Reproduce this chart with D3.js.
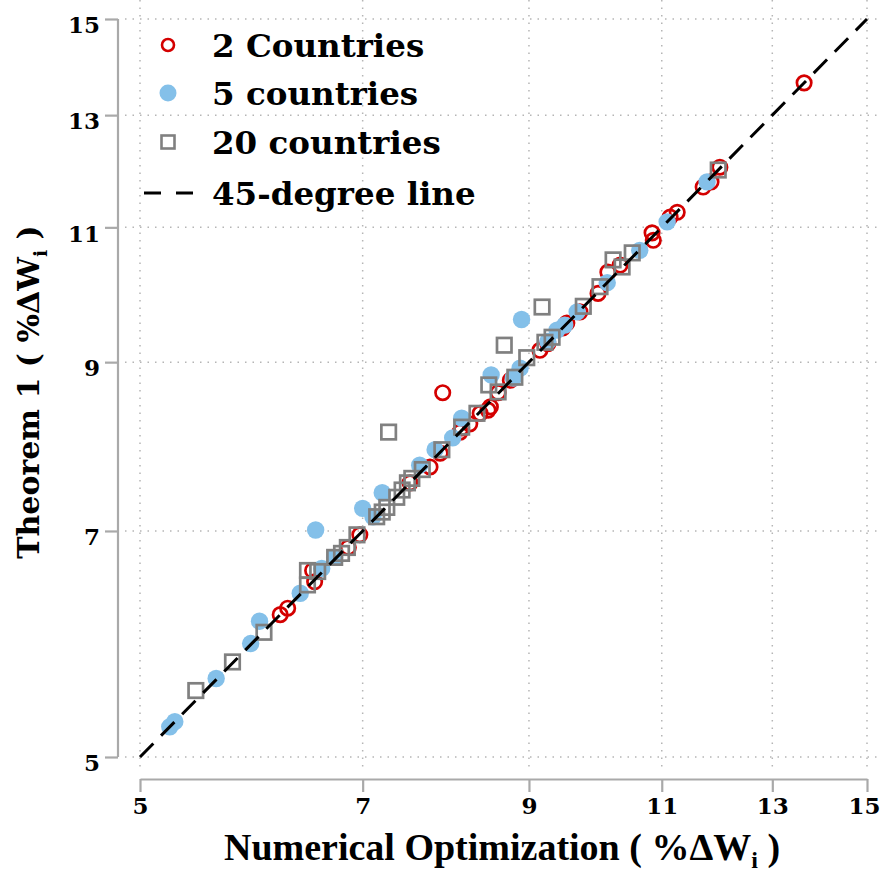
<!DOCTYPE html>
<html>
<head>
<meta charset="utf-8">
<script src="https://cdn.jsdelivr.net/npm/d3@7"></script>
<style>
  body { margin: 0; background: #fff; }
  svg text { font-family: "DejaVu Serif", serif; font-weight: bold; fill: #000; }
</style>
</head>
<body>
<div id="chart"></div>
<script>
// 2 countries: numerical optimization (x) vs Theorem 1 (y)
const twoX = [13.64, 7.90, 12.01, 11.71, 11.85, 11.26, 11.14, 10.84, 10.86, 10.33, 10.14, 9.99, 9.72, 9.53, 9.47,
              9.15, 8.59, 8.46, 8.36, 8.49, 8.13, 8.11, 7.87, 7.75, 7.52, 6.97, 6.85, 6.49, 6.51, 6.18, 6.25, 8.23,
              9.26, 8.75];
const twoY = [13.64, 8.60, 12.03, 11.68, 11.77, 11.25, 11.17, 10.91, 10.79, 10.40, 10.29, 9.97, 9.70, 9.54, 9.47,
              9.16, 8.60, 8.38, 8.34, 8.42, 8.16, 8.11, 7.86, 7.70, 7.52, 6.96, 6.83, 6.60, 6.49, 6.18, 6.24, 8.21,
              9.25, 8.76];

// 5 countries
const fiveX = [5.23, 5.27, 5.61, 5.91, 5.99, 6.37, 6.58, 6.52, 7.00, 7.21, 7.11, 7.63, 7.81, 8.02, 8.13, 8.79,
               8.88, 8.50, 8.90, 9.39, 9.68, 10.13, 10.64, 11.09, 11.78, 9.50, 6.71, 9.26];
const fiveY = [5.23, 5.27, 5.62, 5.92, 6.12, 6.38, 6.62, 7.01, 7.24, 7.41, 7.15, 7.72, 7.90, 8.04, 8.28, 8.79,
               8.92, 8.83, 9.59, 9.44, 9.70, 10.13, 10.63, 11.09, 11.77, 9.51, 6.73, 9.28];

// 20 countries
const twentyX = [5.44, 5.75, 6.03, 6.44, 6.44, 6.54, 6.71, 6.78, 6.84, 6.94, 7.15, 7.21, 7.26, 7.28, 7.37, 7.43,
                 7.49, 7.54, 7.66, 7.89, 8.13, 8.32, 8.47, 8.59, 8.67, 8.81, 8.97, 9.22, 9.18, 9.32, 9.77, 10.02,
                 10.22, 10.36, 10.52, 11.98];
const twentyY = [5.52, 5.76, 6.02, 6.46, 6.60, 6.59, 6.73, 6.77, 6.83, 6.96, 7.15, 7.20, 7.25, 8.11, 7.36, 7.44,
                 7.52, 7.57, 7.67, 7.90, 8.17, 8.34, 8.70, 8.61, 9.23, 8.80, 9.06, 9.27, 9.77, 9.34, 9.78, 10.07,
                 10.48, 10.37, 10.59, 11.98];

const tickValues = [5, 7, 9, 11, 13, 15];
const lineEnds = [5, 15];
const legendLabels = ["2 Countries", "5 countries", "20 countries", "45-degree line"];

const width = 882, height = 875;
const red = "#d40000", blue = "#84c0e9", grey = "#808080", axisGrey = "#a9a9a9";

const svg = d3.select("#chart").append("svg")
    .attr("width", width)
    .attr("height", height);

const x = d3.scaleLog().domain([5, 15]).range([140, 867]);
const y = d3.scaleLog().domain([5, 15]).range([757, 19]);

// dotted grid
const grid = svg.append("g")
    .attr("stroke", "#b5b5b5")
    .attr("stroke-width", 1.5)
    .attr("stroke-dasharray", "1.5,6");
grid.selectAll("line.v")
    .data(tickValues)
    .join("line")
    .attr("class", "v")
    .attr("x1", d => x(d)).attr("x2", d => x(d))
    .attr("y1", 0).attr("y2", 771);
grid.selectAll("line.h")
    .data(tickValues)
    .join("line")
    .attr("class", "h")
    .attr("x1", 125).attr("x2", width)
    .attr("y1", d => y(d)).attr("y2", d => y(d));

// axes
const xAxis = d3.axisBottom(x).tickValues(tickValues).tickFormat(d3.format("d")).tickSize(13).tickSizeOuter(0).tickPadding(6);
const yAxis = d3.axisLeft(y).tickValues(tickValues).tickFormat(d3.format("d")).tickSize(13).tickSizeOuter(0).tickPadding(5);

const gx = svg.append("g").attr("transform", "translate(0,779)").call(xAxis);
const gy = svg.append("g").attr("transform", "translate(118,0)").call(yAxis);
[gx, gy].forEach(g => {
  g.select(".domain").attr("stroke", axisGrey).attr("stroke-width", 2.2);
  g.selectAll(".tick line").attr("stroke", axisGrey).attr("stroke-width", 2.2);
  g.selectAll(".tick text")
    .attr("font-family", "DejaVu Serif")
    .attr("font-weight", "bold")
    .attr("font-size", 23)
    .attr("fill", "#000");
});
gy.selectAll(".tick text").attr("dy", "0.6em");
gy.select(".domain").attr("d", `M0,${y(15)}V${y(5)}`);
// keep the last x label inside the frame
gx.selectAll(".tick text").filter(d => d === 15).attr("dx", -3);

// axis titles
const xTitle = svg.append("text")
    .attr("x", 502).attr("y", 860)
    .attr("text-anchor", "middle")
    .style("font-family", "'Liberation Serif', serif")
    .attr("font-size", 38);
xTitle.append("tspan").text("Numerical Optimization ( %ΔW");
xTitle.append("tspan").attr("font-size", 24).attr("dy", 8).text("i");
xTitle.append("tspan").attr("dy", -8).text(" )");

const yTitle = svg.append("text")
    .attr("transform", "translate(39,392) rotate(-90)")
    .attr("text-anchor", "middle")
    .attr("font-size", 30);
yTitle.append("tspan").text("Theorem 1 ( %ΔW");
yTitle.append("tspan").attr("font-size", 19).attr("dy", 8).text("i");
yTitle.append("tspan").attr("dy", -8).text(" )");

// points
const pts = (xs, ys) => xs.map((v, i) => [v, ys[i]]);

svg.append("g")
    .selectAll("circle")
    .data(pts(twoX, twoY))
    .join("circle")
    .attr("cx", d => x(d[0]))
    .attr("cy", d => y(d[1]))
    .attr("r", 7.2)
    .attr("fill", "none")
    .attr("stroke", red)
    .attr("stroke-width", 2.7);

svg.append("g")
    .selectAll("circle")
    .data(pts(fiveX, fiveY))
    .join("circle")
    .attr("cx", d => x(d[0]))
    .attr("cy", d => y(d[1]))
    .attr("r", 8.7)
    .attr("fill", blue);

const sq = 14.5;
svg.append("g")
    .selectAll("rect")
    .data(pts(twentyX, twentyY))
    .join("rect")
    .attr("x", d => x(d[0]) - sq / 2)
    .attr("y", d => y(d[1]) - sq / 2)
    .attr("width", sq)
    .attr("height", sq)
    .attr("fill", "none")
    .attr("stroke", grey)
    .attr("stroke-width", 2.7);

// 45-degree line
svg.append("line")
    .attr("x1", x(lineEnds[0])).attr("y1", y(lineEnds[0]))
    .attr("x2", x(lineEnds[1])).attr("y2", y(lineEnds[1]))
    .attr("stroke", "#000")
    .attr("stroke-width", 3)
    .attr("stroke-dasharray", "19,11");

// legend
const legend = svg.append("g");
const rowY = [45, 93, 142, 193];
const lx = 168;
legend.append("circle").attr("cx", lx).attr("cy", rowY[0]).attr("r", 6)
    .attr("fill", "none").attr("stroke", red).attr("stroke-width", 2.6);
legend.append("circle").attr("cx", lx).attr("cy", rowY[1]).attr("r", 8.5).attr("fill", blue);
legend.append("rect").attr("x", lx - 6.5).attr("y", rowY[2] - 6.5).attr("width", 13).attr("height", 13)
    .attr("fill", "none").attr("stroke", grey).attr("stroke-width", 2.6);
legend.append("line").attr("x1", 144).attr("x2", 193).attr("y1", rowY[3]).attr("y2", rowY[3])
    .attr("stroke", "#000").attr("stroke-width", 3).attr("stroke-dasharray", "17,15");
legend.selectAll("text")
    .data(legendLabels)
    .join("text")
    .attr("x", 212)
    .attr("y", (d, i) => rowY[i] + 12)
    .attr("font-size", 32.5)
    .text(d => d);
</script>
</body>
</html>
